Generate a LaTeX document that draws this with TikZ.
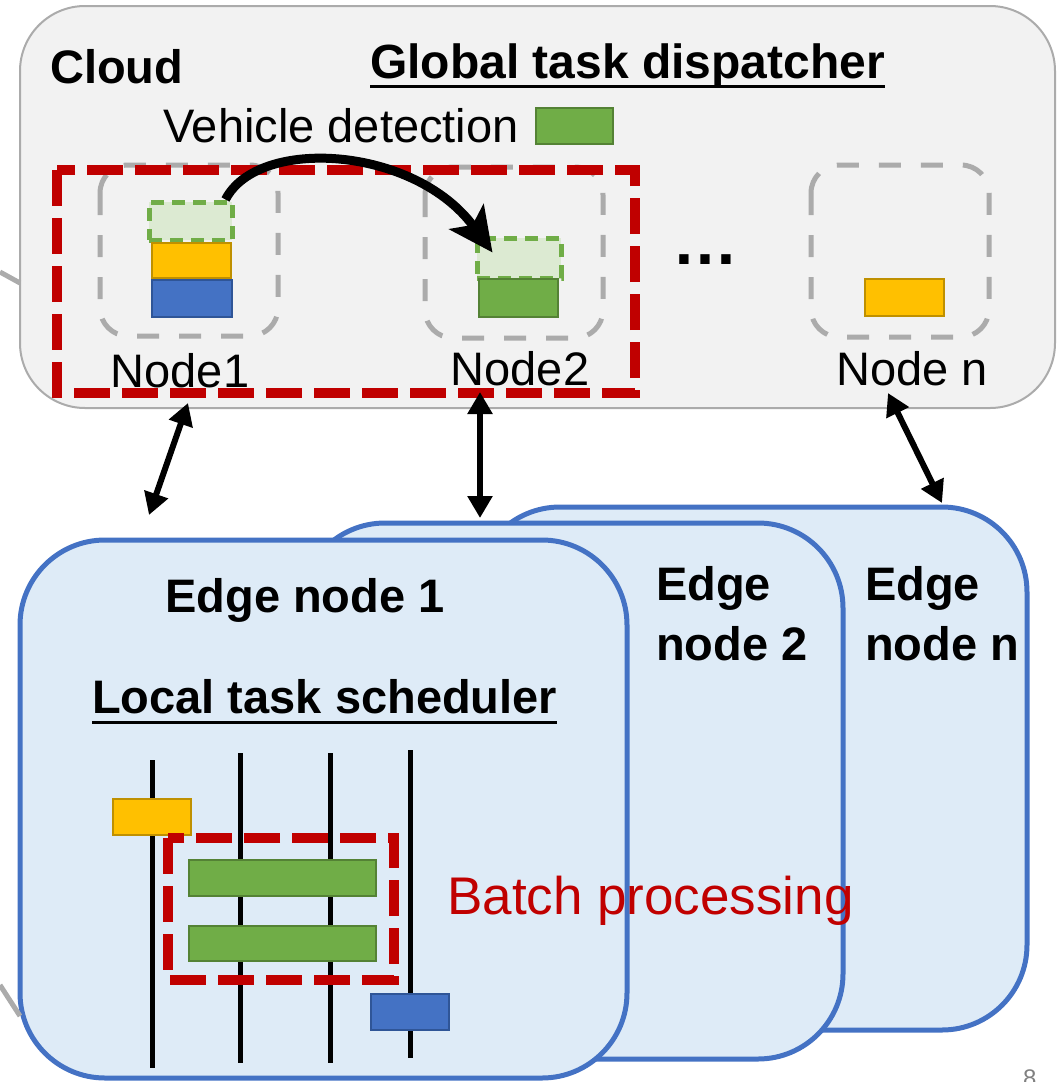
\documentclass[tikz,border=0pt]{standalone}
\usepackage{fontspec}
\setmainfont{Liberation Sans}
\usetikzlibrary{arrows.meta}

\definecolor{cloudfill}{HTML}{F2F2F2}
\definecolor{cloudline}{HTML}{ABABAB}
\definecolor{edgefill}{HTML}{DEEBF7}
\definecolor{edgeline}{HTML}{4472C4}
\definecolor{batchred}{HTML}{C00000}
\definecolor{taskgreen}{HTML}{70AD47}
\definecolor{taskgreenline}{HTML}{548235}
\definecolor{ghostgreen}{HTML}{DCEAD2}
\definecolor{taskyellow}{HTML}{FFC000}
\definecolor{taskyellowline}{HTML}{BF9000}
\definecolor{taskblue}{HTML}{4472C4}
\definecolor{taskblueline}{HTML}{2F5597}
\definecolor{pagegray}{HTML}{808080}

\begin{document}
\begin{tikzpicture}[x=1pt,y=-1pt,
  txt/.style={inner sep=0pt, anchor=base west, font=\fontsize{47}{56}\selectfont},
  btxt/.style={txt, font=\fontsize{47}{56}\selectfont\bfseries},
  cloudbox/.style={draw=cloudline, fill=cloudfill, line width=2pt, rounded corners=65pt},
  edgebox/.style={draw=edgeline, fill=edgefill, line width=5pt, rounded corners=85pt},
  hostbox/.style={draw=cloudline, line width=5pt, dash pattern=on 22pt off 20pt, rounded corners=28pt},
  batchbox/.style={draw=batchred, line width=10pt, dash pattern=on 36pt off 12pt},
  task/.style={inner sep=0pt, line width=2pt},
  greentask/.style={task, draw=taskgreenline, fill=taskgreen},
  yellowtask/.style={task, draw=taskyellowline, fill=taskyellow},
  bluetask/.style={task, draw=taskblueline, fill=taskblue},
  ghosttask/.style={inner sep=0pt, fill=ghostgreen, draw=taskgreen, line width=5pt, dash pattern=on 13pt off 8pt},
  timeline/.style={line width=5pt},
  link/.style={line width=6pt, {Triangle[length=22pt,width=24pt]}-{Triangle[length=22pt,width=24pt]}},
  stub/.style={draw=cloudline, line width=5pt}
]
\useasboundingbox (0,0) rectangle (1064,1082);
\clip (0,0) rectangle (1064,1082);

% ---------------- cloud tier ----------------
\draw[cloudbox] (20,6) rectangle (1055,408);
\coordinate (stubA0) at (0,272);
\coordinate (stubA1) at (20,283);
\draw[stub] (stubA0) -- (stubA1);

\node[btxt] (cloud) at (50,83) {Cloud};
\node[btxt, font=\fontsize{48}{56}\selectfont\bfseries] (gtd) at (370,78) {Global task dispatcher};
\draw[line width=3pt] ([yshift=-8pt]gtd.base west) -- ([yshift=-8pt]gtd.base east);
\node[txt] (vd) at (163,142) {Vehicle detection};
\node[greentask, minimum width=77pt, minimum height=36pt] (legend) at (574.5,126) {};

% cloud hosts
\draw[hostbox] (100,165) rectangle (278,336);
\draw[hostbox] (425,167) rectangle (603,338);
\draw[hostbox] (811,165) rectangle (989,337);

% tasks on the hosts
\node[ghosttask, minimum width=83pt, minimum height=38pt] (n1g) at (190.5,221) {};
\node[yellowtask, minimum width=79pt, minimum height=35pt] (n1y) at (191.5,260.5) {};
\node[bluetask, minimum width=80pt, minimum height=37pt] (n1b) at (192,298.5) {};
\node[ghosttask, minimum width=84pt, minimum height=40pt] (n2g) at (519,258) {};
\node[greentask, minimum width=79pt, minimum height=38pt] (n2t) at (518.5,298) {};
\node[yellowtask, minimum width=79pt, minimum height=37pt] (nny) at (904.5,297.5) {};

% host labels
\node[txt, anchor=base] (lab1) at (180,387) {Node1};
\node[txt, anchor=base] (lab2) at (520,385) {Node2};
\node[txt, anchor=base] (labn) at (912,385) {Node n};
\node[btxt, font=\fontsize{66}{70}\selectfont\bfseries] (dots) at (672,264) {…};

% migration group and arrow
\draw[batchbox] (57,170) rectangle (635,393);
\draw[line width=9pt, -{Stealth[length=44pt,width=42pt,inset=10pt]}]
  ([xshift=-9pt]n1g.north east) .. controls (258,136) and (415,146) ..
  ([xshift=18pt,yshift=-17pt]n2g.north west);

% ---------------- edge tier ----------------
\draw[edgebox] (475,507) rectangle (1027,1030);
\draw[edgebox] (300,523) rectangle (843,1059);
\draw[edgebox] (20,540) rectangle (627,1078);
\coordinate (stubB0) at (0,985);
\coordinate (stubB1) at (20,1016);
\draw[stub] (stubB0) -- (stubB1);

\node[btxt, anchor=base] (e1) at (305,612) {Edge node 1};
\node[btxt] (lts) at (92,713) {Local task scheduler};
\draw[line width=3pt] ([yshift=-9pt]lts.base west) -- ([yshift=-9pt]lts.base east);
\node[btxt] (e2a) at (656,600) {Edge};
\node[btxt] (e2b) at (656,660) {node 2};
\node[btxt] (ena) at (865,600) {Edge};
\node[btxt] (enb) at (865,660) {node n};

% scheduler timelines
\draw[timeline] (152,760) -- (152,1068);
\draw[timeline] (240,753) -- (240,1063);
\draw[timeline] (330,753) -- (330,1063);
\draw[timeline] (410,750) -- (410,1058);

\node[yellowtask, minimum width=78pt, minimum height=36pt] (sy) at (152,817) {};
\node[greentask, minimum width=187pt, minimum height=36pt] (sg1) at (282.5,878) {};
\node[greentask, minimum width=187pt, minimum height=35pt] (sg2) at (282.5,943.5) {};
\node[bluetask, minimum width=78pt, minimum height=36pt] (sb) at (410,1012) {};
\draw[batchbox] (168,838) rectangle (394,980);

\node[txt, font=\fontsize{53}{62}\selectfont, text=batchred] (batch) at (447,914) {Batch processing};

% ---------------- cloud <-> edge links ----------------
\coordinate (a1t) at (188,403);
\coordinate (a1b) at (149,515);
\coordinate (a2t) at (480,392);
\coordinate (a2b) at (480,518);
\coordinate (a3t) at (888,393);
\coordinate (a3b) at (942,503);
\draw[link] (a1t) -- (a1b);
\draw[link] (a2t) -- (a2b);
\draw[link] (a3t) -- (a3b);

\node[txt, font=\fontsize{24}{28}\selectfont, text=pagegray] (pg) at (1023,1086) {8};
\end{tikzpicture}
\end{document}
